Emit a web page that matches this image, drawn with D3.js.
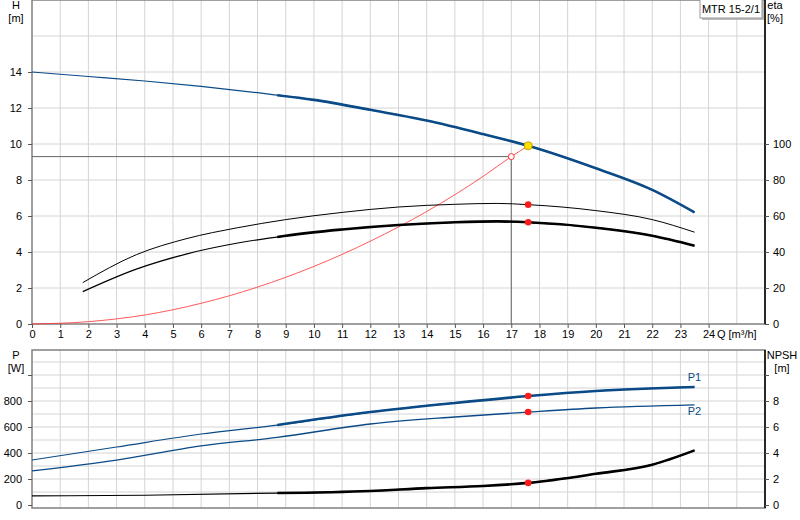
<!DOCTYPE html>
<html><head><meta charset="utf-8">
<script src="https://cdn.jsdelivr.net/npm/d3@7"></script>
<style>body{margin:0;background:#fff}text{font-family:"Liberation Sans",Arial,sans-serif;font-size:11px;fill:#000}</style>
</head><body><svg id="c" width="800" height="520"></svg>
<script>
// pump curve, Q in m3/h
var hQ = [0, 2, 4, 6, 8, 10, 12, 14, 16, 17.6, 20, 22, 23.5];
var hVal = [14.0, 13.75, 13.5, 13.2, 12.85, 12.45, 11.9, 11.3, 10.55, 9.9, 8.65, 7.45, 6.2];
var etaQ = [1.8, 3.7, 5.5, 7.3, 9, 11, 13, 15, 16.5, 17.6, 20, 22, 23.5];
var eta1 = [23, 38.5, 47.5, 53.5, 58, 62, 65, 66.5, 67, 66.3, 63, 58, 51];
var eta2 = [18, 30.5, 39, 45, 49, 52.5, 55, 56.5, 57, 56.5, 53.5, 49, 43.5];
var sysQ = [0, 2, 4, 6, 8, 10, 12, 14, 16, 17, 17.6];
var sysH = [0, 0.13, 0.5, 1.15, 2.05, 3.2, 4.6, 6.25, 8.2, 9.3, 9.9];
var pQ = [0, 3, 6, 8.7, 12, 15, 17.6, 20, 23.5];
var p1 = [346, 446, 546, 615, 715, 785, 838, 877, 908];
var p2 = [262, 346, 454, 520, 623, 677, 715, 746, 770];
var npshQ = [0, 4, 8.7, 12, 14, 16, 17.6, 20, 22, 23.5];
var npsh = [0.7, 0.75, 0.92, 1.08, 1.3, 1.46, 1.7, 2.4, 3.1, 4.2];
var dutyQ = 17.6, dutyH = 9.9, dutyEta = [66.3, 56.5], dutyP = [838, 715], dutyNpsh = 1.7;
var reqQ = 17, reqH = 9.3;
var qTicks = d3.range(0, 25);
var thickFrom = 8.7;

var svg = d3.select('#c');
var x = d3.scaleLinear().domain([0, 26]).range([32, 765]);
var yH = d3.scaleLinear().domain([0, 18]).range([324, 0]);
var yEta = d3.scaleLinear().domain([0, 100]).range([324, 144]);
var yP = d3.scaleLinear().domain([0, 1200]).range([505, 349]);
var yN = d3.scaleLinear().domain([0, 12]).range([505, 349]);
var grid = '#d4d4d4';

function panel(y0, y1, ys, step, max) {
  var g = svg.append('g');
  g.selectAll('.v').data(d3.range(1, 26)).enter().append('line')
    .attr('x1', d => x(d)).attr('x2', d => x(d)).attr('y1', y0).attr('y2', y1).attr('stroke', grid);
  g.selectAll('.h').data(d3.range(step, max, step)).enter().append('line')
    .attr('x1', x(0)).attr('x2', x(26)).attr('y1', d => ys(d)).attr('y2', d => ys(d)).attr('stroke', grid);
  g.append('rect').attr('x', x(0)).attr('y', y0).attr('width', x(26) - x(0)).attr('height', y1 - y0)
    .attr('fill', 'none').attr('stroke', '#808080').attr('stroke-width', 1.5);
  g.append('line').attr('x1', x(26)).attr('x2', x(26)).attr('y1', y0).attr('y2', y1).attr('stroke', '#000').attr('stroke-width', 1.5);
}
panel(0, 324, yH, 2, 18);
panel(350, 508, yP, 100, 1200);

// axes
svg.append('g').attr('transform', 'translate(' + x(0) + ',0)')
  .call(d3.axisLeft(yH).tickValues(d3.range(0, 15, 2)).tickSize(4).tickPadding(6))
  .call(g => g.select('.domain').remove());
svg.append('g').attr('transform', 'translate(' + x(26) + ',0)')
  .call(d3.axisRight(yEta).tickValues(d3.range(0, 101, 20)).tickSize(4).tickPadding(4))
  .call(g => g.select('.domain').remove());
svg.append('g').attr('transform', 'translate(0,324)')
  .call(d3.axisBottom(x).tickValues(qTicks).tickSize(4).tickPadding(2))
  .call(g => g.select('.domain').remove());
svg.append('g').attr('transform', 'translate(' + x(0) + ',0)')
  .call(d3.axisLeft(yP).tickValues([0, 200, 400, 600, 800, 1000]).tickFormat(d => d < 1000 ? d : '').tickSize(4).tickPadding(6))
  .call(g => g.select('.domain').remove());
svg.append('g').attr('transform', 'translate(' + x(26) + ',0)')
  .call(d3.axisRight(yN).tickValues([0, 2, 4, 6, 8, 10]).tickFormat(d => d < 10 ? d : '').tickSize(4).tickPadding(4))
  .call(g => g.select('.domain').remove());
svg.selectAll('.tick line').attr('stroke', '#555');
svg.selectAll('.tick text').style('font-size', '11px');

function label(tx, ty, lines, anchor) {
  var t = svg.append('text').attr('x', tx).attr('y', ty).attr('text-anchor', anchor || 'middle');
  lines.forEach((s, i) => t.append('tspan').attr('x', tx).attr('dy', i ? 13 : 0).text(s));
}
label(16, 9, ['H', '[m]']);
label(775, 9, ['eta', '[%]']);
label(16, 359, ['P', '[W]']);
label(782, 359, ['NPSH', '[m]']);
svg.append('text').attr('x', x(25)).attr('y', 338).attr('text-anchor', 'middle').text('Q [m³/h]');

// legend box
svg.append('rect').attr('x', 702).attr('y', 1).attr('width', 62).attr('height', 19).attr('fill', '#bbb');
svg.append('rect').attr('x', 700).attr('y', -1).attr('width', 62).attr('height', 19).attr('fill', '#fff').attr('stroke', '#999');
svg.append('text').attr('x', 731).attr('y', 13).attr('text-anchor', 'middle').text('MTR 15-2/1');

function pts(qs, vs) { return qs.map((q, i) => [q, vs[i]]); }
function split(p) {
  return [p.filter(d => d[0] <= thickFrom + 0.5), p.filter(d => d[0] >= thickFrom - 0.5)];
}
function draw(p, ys, color, thin, thick) {
  var ln = d3.line().x(d => x(d[0])).y(d => ys(d[1])).curve(d3.curveMonotoneX);
  svg.append('path').attr('d', ln(p)).attr('fill', 'none').attr('stroke', color).attr('stroke-width', thin);
  if (thick) {
    var tp = p.filter(d => d[0] >= thickFrom);
    var full = p.filter(d => d[0] < thickFrom);
    var last = full[full.length - 1], nx = tp[0];
    var t = (thickFrom - last[0]) / (nx[0] - last[0]);
    tp.unshift([thickFrom, last[1] + t * (nx[1] - last[1])]);
    svg.append('path').attr('d', ln(tp)).attr('fill', 'none').attr('stroke', color).attr('stroke-width', thick);
  }
}
var blue = '#0a4a86';

// reference lines
svg.append('path').attr('d', 'M' + x(0) + ',' + yH(reqH) + 'H' + x(reqQ) + 'V' + yH(0))
  .attr('fill', 'none').attr('stroke', '#666').attr('stroke-width', 1);
draw(pts(sysQ, sysH), yH, '#ff3030', 0.8);
draw(pts(hQ, hVal), yH, blue, 1.2, 2.6);
draw(pts(etaQ, eta1), yEta, '#000', 1);
draw(pts(etaQ, eta2), yEta, '#000', 1.2, 2.6);
draw(pts(pQ, p1), yP, blue, 1.2, 2.6);
draw(pts(pQ, p2), yP, blue, 1.3);
draw(pts(npshQ, npsh), yN, '#000', 1.2, 2.6);

svg.append('circle').attr('cx', x(reqQ)).attr('cy', yH(reqH)).attr('r', 3).attr('fill', '#fff').attr('stroke', '#ff3030');
svg.append('circle').attr('cx', x(dutyQ)).attr('cy', yH(dutyH)).attr('r', 4).attr('fill', '#ffe000').attr('stroke', '#c8a000');
var reds = dutyEta.map(v => yEta(v)).concat(dutyP.map(v => yP(v)), [yN(dutyNpsh)]);
svg.selectAll('.dot').data(reds).enter().append('circle')
  .attr('cx', x(dutyQ)).attr('cy', d => d).attr('r', 3.3).attr('fill', '#ff1a1a');

svg.append('text').attr('x', x(23.5)).attr('y', 381).attr('text-anchor', 'middle').style('fill', blue).text('P1');
svg.append('text').attr('x', x(23.5)).attr('y', 415).attr('text-anchor', 'middle').style('fill', blue).text('P2');
</script></body></html>
